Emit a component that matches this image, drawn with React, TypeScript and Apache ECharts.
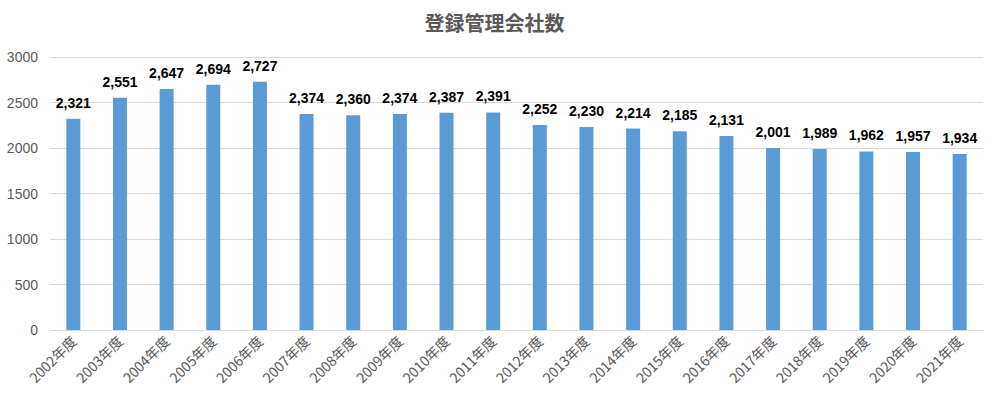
import React, { useEffect, useRef } from "react";
import * as echarts from "echarts";

const categories = [
  "2002年度", "2003年度", "2004年度", "2005年度", "2006年度", "2007年度", "2008年度",
  "2009年度", "2010年度", "2011年度", "2012年度", "2013年度", "2014年度", "2015年度",
  "2016年度", "2017年度", "2018年度", "2019年度", "2020年度", "2021年度",
];
const values = [
  2321, 2551, 2647, 2694, 2727, 2374, 2360, 2374, 2387, 2391,
  2252, 2230, 2214, 2185, 2131, 2001, 1989, 1962, 1957, 1934,
];
const title = "登録管理会社数";

export default function App() {
  const ref = useRef<HTMLDivElement>(null);
  useEffect(() => {
    const chart = echarts.init(ref.current!, null, { renderer: "svg" });
    const font = "'Noto Sans CJK JP', 'Liberation Sans', sans-serif";
    chart.setOption({
      animation: false,
      title: {
        text: title,
        left: "center",
        top: 7,
        textStyle: { fontFamily: font, fontSize: 20, fontWeight: "bold", color: "#595959" },
      },
      grid: { left: 50, right: 6, top: 57, bottom: 66 },
      xAxis: {
        type: "category",
        data: categories,
        axisLine: { lineStyle: { color: "#d9d9d9" } },
        axisTick: { show: false },
        axisLabel: { rotate: 45, fontFamily: font, fontSize: 14, color: "#595959", margin: 8, interval: 0 },
      },
      yAxis: {
        type: "value",
        min: 0,
        max: 3000,
        interval: 500,
        axisLine: { show: false },
        axisTick: { show: false },
        splitLine: { lineStyle: { color: "#d9d9d9" } },
        axisLabel: {
          fontFamily: "'Liberation Sans', sans-serif",
          fontSize: 14,
          color: "#595959",
          margin: 12,
          formatter: (v: number) => String(v),
        },
      },
      series: [
        {
          type: "bar",
          data: values,
          barWidth: "30%",
          itemStyle: { color: "#5B9BD5" },
          label: {
            show: true,
            position: "top",
            distance: 9,
            fontFamily: "'Liberation Sans', sans-serif",
            fontSize: 14,
            fontWeight: "bold",
            color: "#000",
            formatter: (p: any) => p.value.toLocaleString("en-US"),
          },
        },
      ],
    });
    return () => chart.dispose();
  }, []);
  return (
    <div
      ref={ref}
      style={{ position: "absolute", left: 0, top: 0, width: 989, height: 396, background: "#fff" }}
    />
  );
}
